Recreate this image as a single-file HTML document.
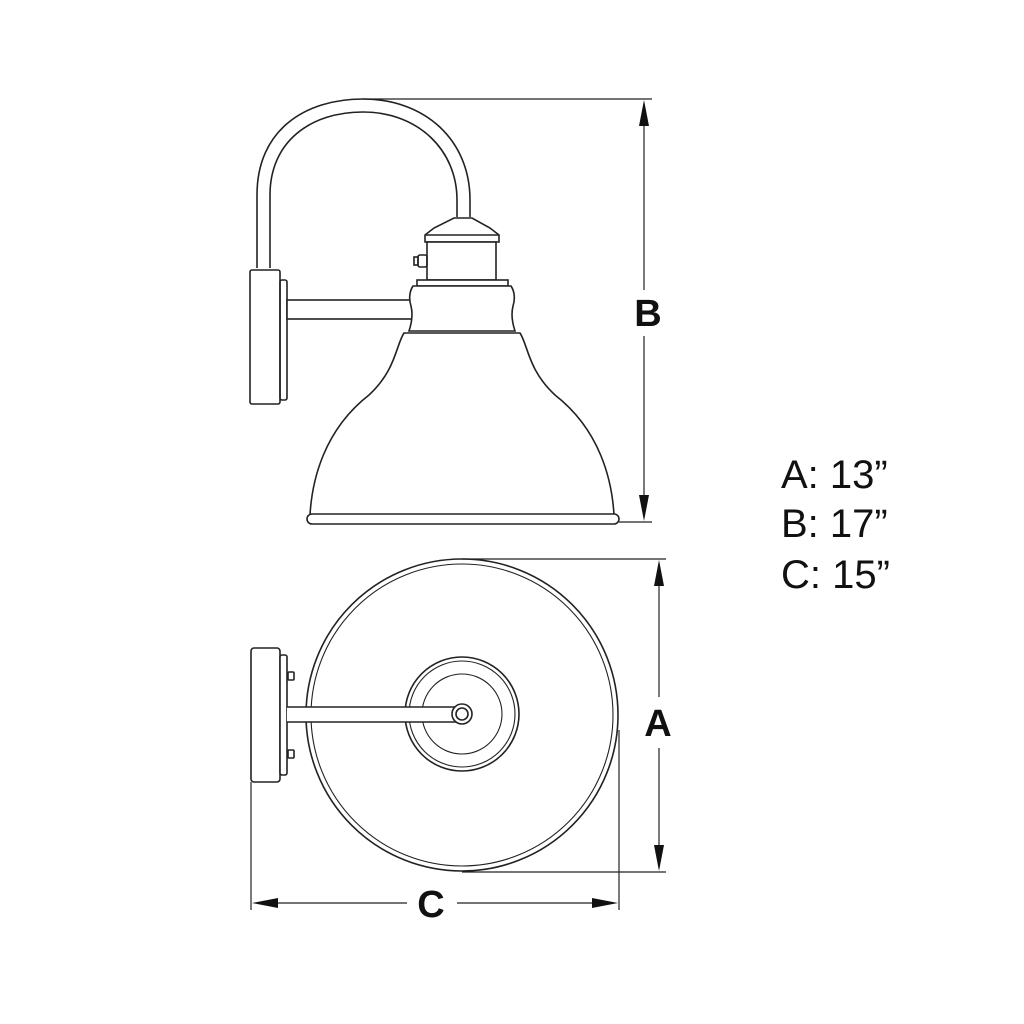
<!DOCTYPE html>
<html><head><style>html,body{margin:0;padding:0;background:#fff;}svg{display:block}</style></head>
<body>
<svg width="1024" height="1024" viewBox="0 0 1024 1024" xmlns="http://www.w3.org/2000/svg">
<g fill="none" stroke="#222" stroke-width="1.6">
<path d="M257,268 L257,195 C257,130 305,99 363,99 C425,99 470,140 470,200 L470,217"/>
<path d="M270,268 L270,195 C270,142 310,112 363,112 C418,112 457,150 457,200 L457,217"/>
<rect x="250" y="270" width="30" height="134" rx="2" fill="#fff"/>
<rect x="280" y="280" width="7" height="120" rx="2"/>
<rect x="287" y="300" width="127" height="19" fill="#fff"/>
<path d="M454,218 L472,218 L490,228 L499,235 L499,242 L425,242 L425,235 L434,228 Z" fill="#fff"/>
<line x1="425" y1="235" x2="499" y2="235"/>
<rect x="427" y="242" width="69" height="38" fill="#fff"/>
<rect x="418" y="255" width="9" height="12" rx="2"/>
<rect x="414" y="257" width="4" height="8"/>
<rect x="417" y="280" width="91" height="6" fill="#fff"/>
<path d="M413,286 L511,286 C515,292 515,300 513,306 C511,314 512,322 515,331 L409,331 C412,322 413,314 411,306 C409,300 409,292 413,286 Z" fill="#fff"/>
<path d="M404,333 L520,333 C528,345 528,370 555,395 C600,430 612,480 614,515 L310,515 C312,480 324,430 369,395 C396,370 396,345 404,333 Z" fill="#fff"/>
<rect x="307" y="514" width="312" height="10" rx="5" fill="#fff"/>
</g>
<g stroke="#222" stroke-width="1.2" fill="none">
<line x1="363" y1="99" x2="652" y2="99"/>
<line x1="619" y1="522" x2="652" y2="522"/>
<line x1="644" y1="110" x2="644" y2="290"/>
<line x1="644" y1="336" x2="644" y2="511"/>
</g>
<g fill="#111">
<polygon points="644,100 639,126 649,126"/>
<polygon points="644,521 639,495 649,495"/>
</g>
<text x="648" y="326" font-family="Liberation Sans, sans-serif" font-weight="bold" font-size="38" text-anchor="middle" fill="#111">B</text>
<g fill="none" stroke="#222" stroke-width="1.6">
<circle cx="462" cy="715" r="156"/>
<circle cx="462" cy="715" r="151" stroke-width="1.1"/>
<circle cx="462" cy="714" r="57"/>
<circle cx="462" cy="714" r="53" stroke-width="1.1"/>
<circle cx="462" cy="714" r="40" stroke-width="1.1"/>
<rect x="251" y="648" width="29" height="134" rx="3" fill="#fff"/>
<rect x="280" y="655" width="7" height="120" rx="2" fill="#fff"/>
<rect x="288" y="672" width="6" height="8" rx="1"/>
<rect x="288" y="750" width="6" height="8" rx="1"/>
<path d="M287,707 L462,707 A7.5,7.5 0 0 1 462,722 L287,722" fill="#fff"/>
<circle cx="462" cy="714" r="10" fill="#fff"/>
<circle cx="462" cy="714" r="6"/>
</g>
<g stroke="#222" stroke-width="1.2" fill="none">
<line x1="462" y1="559" x2="666" y2="559"/>
<line x1="462" y1="872" x2="666" y2="872"/>
<line x1="659" y1="570" x2="659" y2="697"/>
<line x1="659" y1="748" x2="659" y2="861"/>
<line x1="251" y1="782" x2="251" y2="910"/>
<line x1="619" y1="730" x2="619" y2="910"/>
<line x1="262" y1="903" x2="407" y2="903"/>
<line x1="457" y1="903" x2="608" y2="903"/>
</g>
<g fill="#111">
<polygon points="659,560 654,586 664,586"/>
<polygon points="659,871 654,845 664,845"/>
<polygon points="252,903 278,898 278,908"/>
<polygon points="618,903 592,898 592,908"/>
</g>
<text x="658" y="736" font-family="Liberation Sans, sans-serif" font-weight="bold" font-size="38" text-anchor="middle" fill="#111">A</text>
<text x="431" y="917" font-family="Liberation Sans, sans-serif" font-weight="bold" font-size="38" text-anchor="middle" fill="#111">C</text>
<g font-family="Liberation Sans, sans-serif" font-size="40" fill="#111">
<text x="781" y="488">A: 13”</text>
<text x="781" y="537">B: 17”</text>
<text x="781" y="588">C: 15”</text>
</g>
</svg>
</body></html>
